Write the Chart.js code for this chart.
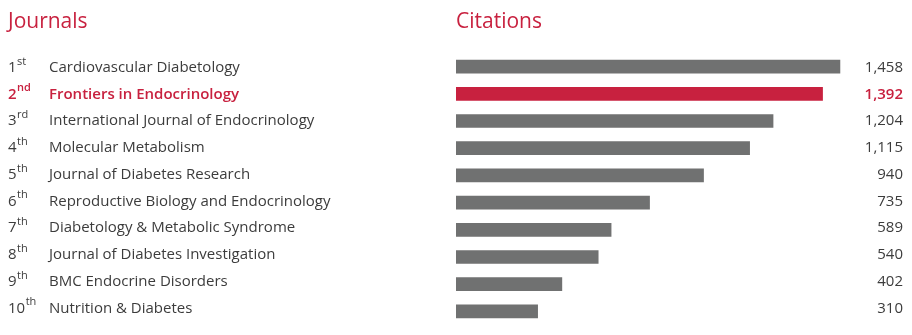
<!DOCTYPE html>
<html>
<head>
<meta charset="utf-8">
<script src="https://cdn.jsdelivr.net/npm/chart.js@4"></script>
<style>
  html, body { margin: 0; padding: 0; background: #fff; }
  #wrap { width: 912px; height: 335px; }
</style>
</head>
<body>
<div id="wrap"><canvas id="myChart" width="912" height="335"></canvas></div>
<script>
// data
const ranks    = ['1', '2', '3', '4', '5', '6', '7', '8', '9', '10'];
const suffixes = ['st', 'nd', 'rd', 'th', 'th', 'th', 'th', 'th', 'th', 'th'];
const journals = [
    'Cardiovascular Diabetology',
    'Frontiers in Endocrinology',
    'International Journal of Endocrinology',
    'Molecular Metabolism',
    'Journal of Diabetes Research',
    'Reproductive Biology and Endocrinology',
    'Diabetology & Metabolic Syndrome',
    'Journal of Diabetes Investigation',
    'BMC Endocrine Disorders',
    'Nutrition & Diabetes'
];
const citations = [1458, 1392, 1204, 1115, 940, 735, 589, 540, 402, 310];
const highlight = 1;    // index of the red row

const RED  = '#c8213f';
const GREY = '#707171';
const TEXT = '#3c3c3c';
const FONT = '"Open Sans", sans-serif';

const barColors = citations.map((v, i) => i === highlight ? RED : GREY);

// draws headings, rank + journal names on the left and the numbers on the right
const sideText = {
    id: 'sideText',
    afterDraw(chart) {
        const ctx = chart.ctx;
        const y = chart.scales.y;
        ctx.save();
        ctx.textBaseline = 'middle';

        ctx.fillStyle = RED;
        ctx.font = '21px ' + FONT;
        ctx.textAlign = 'left';
        ctx.fillText('Journals', 8, 22);
        ctx.fillText('Citations', 456, 22);

        journals.forEach((name, i) => {
            // text rows sit a little tighter than the bars in the original
            const py = y.getPixelForValue(i) - i * 0.45 + 1;
            const hot = i === highlight;
            const weight = hot ? '600 ' : '';
            ctx.fillStyle = hot ? RED : TEXT;

            ctx.textAlign = 'left';
            ctx.font = weight + '15px ' + FONT;
            ctx.fillText(ranks[i], 8, py);
            const w = ctx.measureText(ranks[i]).width;
            ctx.font = weight + '11px ' + FONT;
            ctx.fillText(suffixes[i], 8 + w + 0.5, py - 6);

            ctx.font = weight + '15px ' + FONT;
            ctx.fillText(name, 49, py);

            ctx.textAlign = 'right';
            ctx.fillText(citations[i].toLocaleString('en-US'), 903, py);
        });
        ctx.restore();
    }
};

let myChart = new Chart(document.getElementById('myChart').getContext('2d'), {
    type: 'bar',
    data: {
        labels: journals,
        datasets: [{
            data: citations,
            backgroundColor: barColors,
            borderWidth: 0,
            barThickness: 13
        }]
    },
    options: {
        indexAxis: 'y',
        responsive: false,
        animation: false,
        layout: {
            padding: { left: 456, right: 61, top: 53, bottom: 10 }
        },
        plugins: {
            legend: { display: false },
            tooltip: { enabled: false }
        },
        scales: {
            x: { display: false, min: 0, max: 1500 },
            y: { display: false }
        }
    },
    plugins: [sideText]
});
</script>
</body>
</html>
